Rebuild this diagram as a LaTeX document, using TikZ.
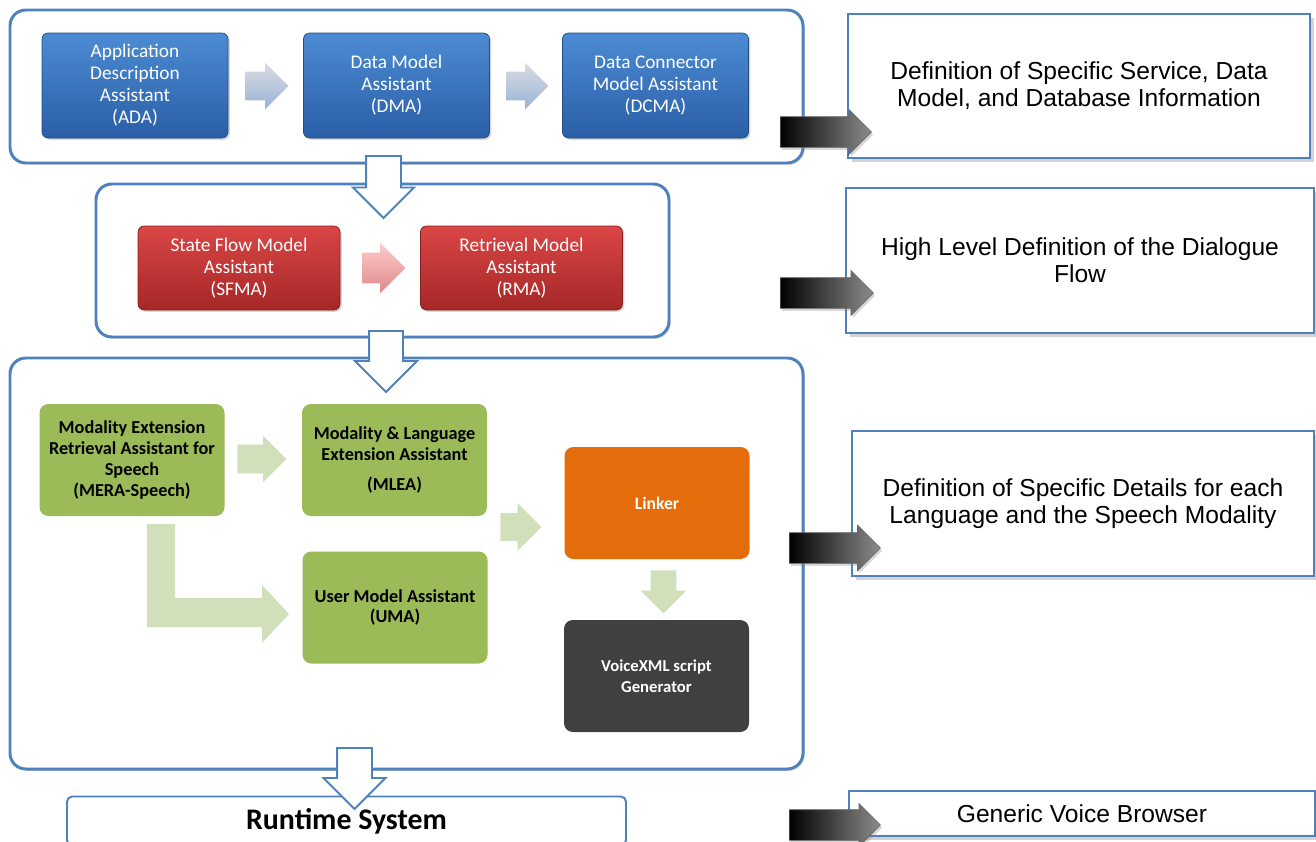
\documentclass[tikz,border=0pt]{standalone}
\usepackage{fontspec}
\setmainfont{Carlito}
\newfontfamily\arialfont{Liberation Sans}
\usetikzlibrary{shapes.arrows,shadows}

\definecolor{frameblue}{HTML}{4F81BD}
\definecolor{boxblueT}{HTML}{4C8BD3}
\definecolor{boxblueB}{HTML}{2A5FA6}
\definecolor{boxredT}{HTML}{DA4646}
\definecolor{boxredB}{HTML}{A62727}
\definecolor{leafgreen}{HTML}{9BBB59}
\definecolor{sage}{HTML}{D1DFBA}
\definecolor{linkorange}{HTML}{E46C0A}
\definecolor{coal}{HTML}{404040}

% one unit of the picture is one pixel of the layout
\newcommand{\pxu}{0.02cm}

\tikzset{
  stage/.style={draw=frameblue, line width=1.7pt, rounded corners=9pt, fill=white,
    drop shadow={opacity=0.25, shadow xshift=1pt, shadow yshift=-1pt}},
  box/.style={align=center, inner sep=2pt},
  bluebox/.style={box, rounded corners=3.5pt, minimum width=186*\pxu, minimum height=105*\pxu,
    top color=boxblueT, bottom color=boxblueB, draw=boxblueB!80!black, text=white,
    font=\fontsize{11pt}{12.5pt}\selectfont,
    drop shadow={opacity=0.3, shadow xshift=1pt, shadow yshift=-1pt}},
  redbox/.style={bluebox, minimum width=202*\pxu, minimum height=84*\pxu,
    top color=boxredT, bottom color=boxredB, draw=boxredB!80!black},
  greenbox/.style={box, rounded corners=5pt, minimum width=185*\pxu, minimum height=112*\pxu,
    fill=leafgreen, font=\bfseries\fontsize{10.4pt}{11.9pt}\selectfont},
  darkbox/.style={greenbox, text=white, font=\bfseries\fontsize{10pt}{11.9pt}\selectfont},
  notebox/.style={box, draw=frameblue, line width=0.6pt, fill=white, minimum width=462*\pxu,
    minimum height=144*\pxu, font=\arialfont\fontsize{14pt}{15.3pt}\selectfont,
    drop shadow={opacity=0.35, shadow xshift=2pt, shadow yshift=-2pt}},
  % block arrows: length, half shaft, head extend (all in pixels)
  blockarrow/.style n args={3}{single arrow, anchor=tail, inner xsep=0pt,
    inner ysep=#2*\pxu, single arrow head extend=#3*\pxu, minimum height=#1*\pxu,
    single arrow tip angle=90},
  hollow/.style={draw=frameblue, line width=1.1pt, fill=white},
  paleblue/.style={top color=blue!10!gray!25, bottom color=frameblue!60, draw=none},
  palered/.style={top color=red!20!white, bottom color=red!55!gray!60, draw=none},
  palegreen/.style={fill=sage, draw=none},
  blackarrow/.style={left color=black, right color=black!45, draw=black!60, line width=0.4pt,
    drop shadow={opacity=0.3, shadow xshift=1pt, shadow yshift=-1.5pt}}
}

\begin{document}
\begin{tikzpicture}[x=\pxu, y=-\pxu]
  \useasboundingbox (0,0) rectangle (1316,842);
  \clip (0,0) rectangle (1316,842);

  % Three stages
  \node[stage, minimum width=793*\pxu, minimum height=153*\pxu] (stage1) at (406.5,86.5) {};
  \node[stage, minimum width=573*\pxu, minimum height=153*\pxu] (stage2) at (382.5,260.5) {};
  \node[stage, minimum width=793*\pxu, minimum height=411*\pxu] (stage3) at (406.5,563.5) {};

  % First stage
  \node[bluebox] (ada) at (135,85.5) {Application\\Description\\Assistant\\(ADA)};
  \node[bluebox] (dma) at (396.5,85.5) {Data Model\\Assistant\\(DMA)};
  \node[bluebox] (dcma) at (655.5,85.5) {Data Connector\\Model Assistant\\(DCMA)};
  \node[blockarrow={43}{14}{9}, paleblue] (ada2dma) at (245,86) {};
  \node[blockarrow={42}{14}{9}, paleblue] (dma2dcma) at (506,86) {};

  % Second stage
  \node[redbox] (sfma) at (239,268) {State Flow Model\\Assistant\\(SFMA)};
  \node[redbox] (rma) at (521.5,268) {Retrieval Model\\Assistant\\(RMA)};
  \node[blockarrow={43}{15}{10}, palered] (sfma2rma) at (362,268) {};

  % Third stage
  \node[greenbox] (mera) at (132,460) {Modality Extension\\Retrieval Assistant for\\Speech\\(MERA-Speech)};
  \node[greenbox] (mlea) at (394.5,460) {Modality \& Language\\Extension Assistant\\[5pt](MLEA)};
  \node[greenbox] (uma) at (395,607.5) {User Model Assistant\\(UMA)};
  \node[darkbox, fill=linkorange] (linker) at (657,503) {Linker};
  \node[darkbox, fill=coal, font=\bfseries\fontsize{9.5pt}{11.9pt}\selectfont] (vxml) at (656.5,676) {VoiceXML script\\Generator};
  \node[blockarrow={49}{14}{9}, palegreen] (mera2mlea) at (237,459) {};
  \node[blockarrow={41}{13.5}{10}, palegreen] (tolinker) at (500,527) {};
  \node[blockarrow={43}{12.5}{10}, palegreen, rotate=-90] (linker2vxml) at (663.5,570) {};
  \fill[sage] (147,524) -- (175,524) -- (175,598) -- (262,598) -- (262,585) -- (289,614)
    -- (262,643) -- (262,627) -- (147,627) -- cycle;

  % Runtime
  \node[box, draw=frameblue, line width=1.1pt, rounded corners=3pt, fill=white,
    minimum width=559*\pxu, minimum height=49*\pxu,
    font=\bfseries\fontsize{17pt}{20pt}\selectfont] (runtime) at (346.5,821) {Runtime System};

  % Flow between the stages
  \node[blockarrow={62}{16.5}{13}, hollow, rotate=-90] (down1) at (383.5,155) {};
  \node[blockarrow={61}{16}{14}, hollow, rotate=-90] (down2) at (386,330) {};
  \node[blockarrow={61}{16.5}{13.5}, hollow, rotate=-90] (down3) at (354.5,747) {};

  % Notes on the right
  \node[notebox] (note1) at (1079,86) {Definition of Specific Service, Data\\Model, and Database Information};
  \node[notebox, minimum width=468*\pxu, minimum height=145*\pxu] (note2) at (1080,260.5) {High Level Definition of the Dialogue\\Flow};
  \node[notebox, minimum width=462*\pxu, minimum height=145*\pxu] (note3) at (1083,503.5) {Definition of Specific Details for each\\Language and the Speech Modality};
  \node[notebox, minimum width=466*\pxu, minimum height=45*\pxu] (note4) at (1082,813.5) {Generic Voice Browser};

  \node[blockarrow={91}{15}{7}, blackarrow] (k1) at (780,132) {};
  \node[blockarrow={93}{15}{7}, blackarrow] (k2) at (780,293) {};
  \node[blockarrow={91}{15}{7.5}, blackarrow] (k3) at (789,548) {};
  \node[blockarrow={91}{15}{6}, blackarrow] (k4) at (789,825) {};
\end{tikzpicture}
\end{document}
